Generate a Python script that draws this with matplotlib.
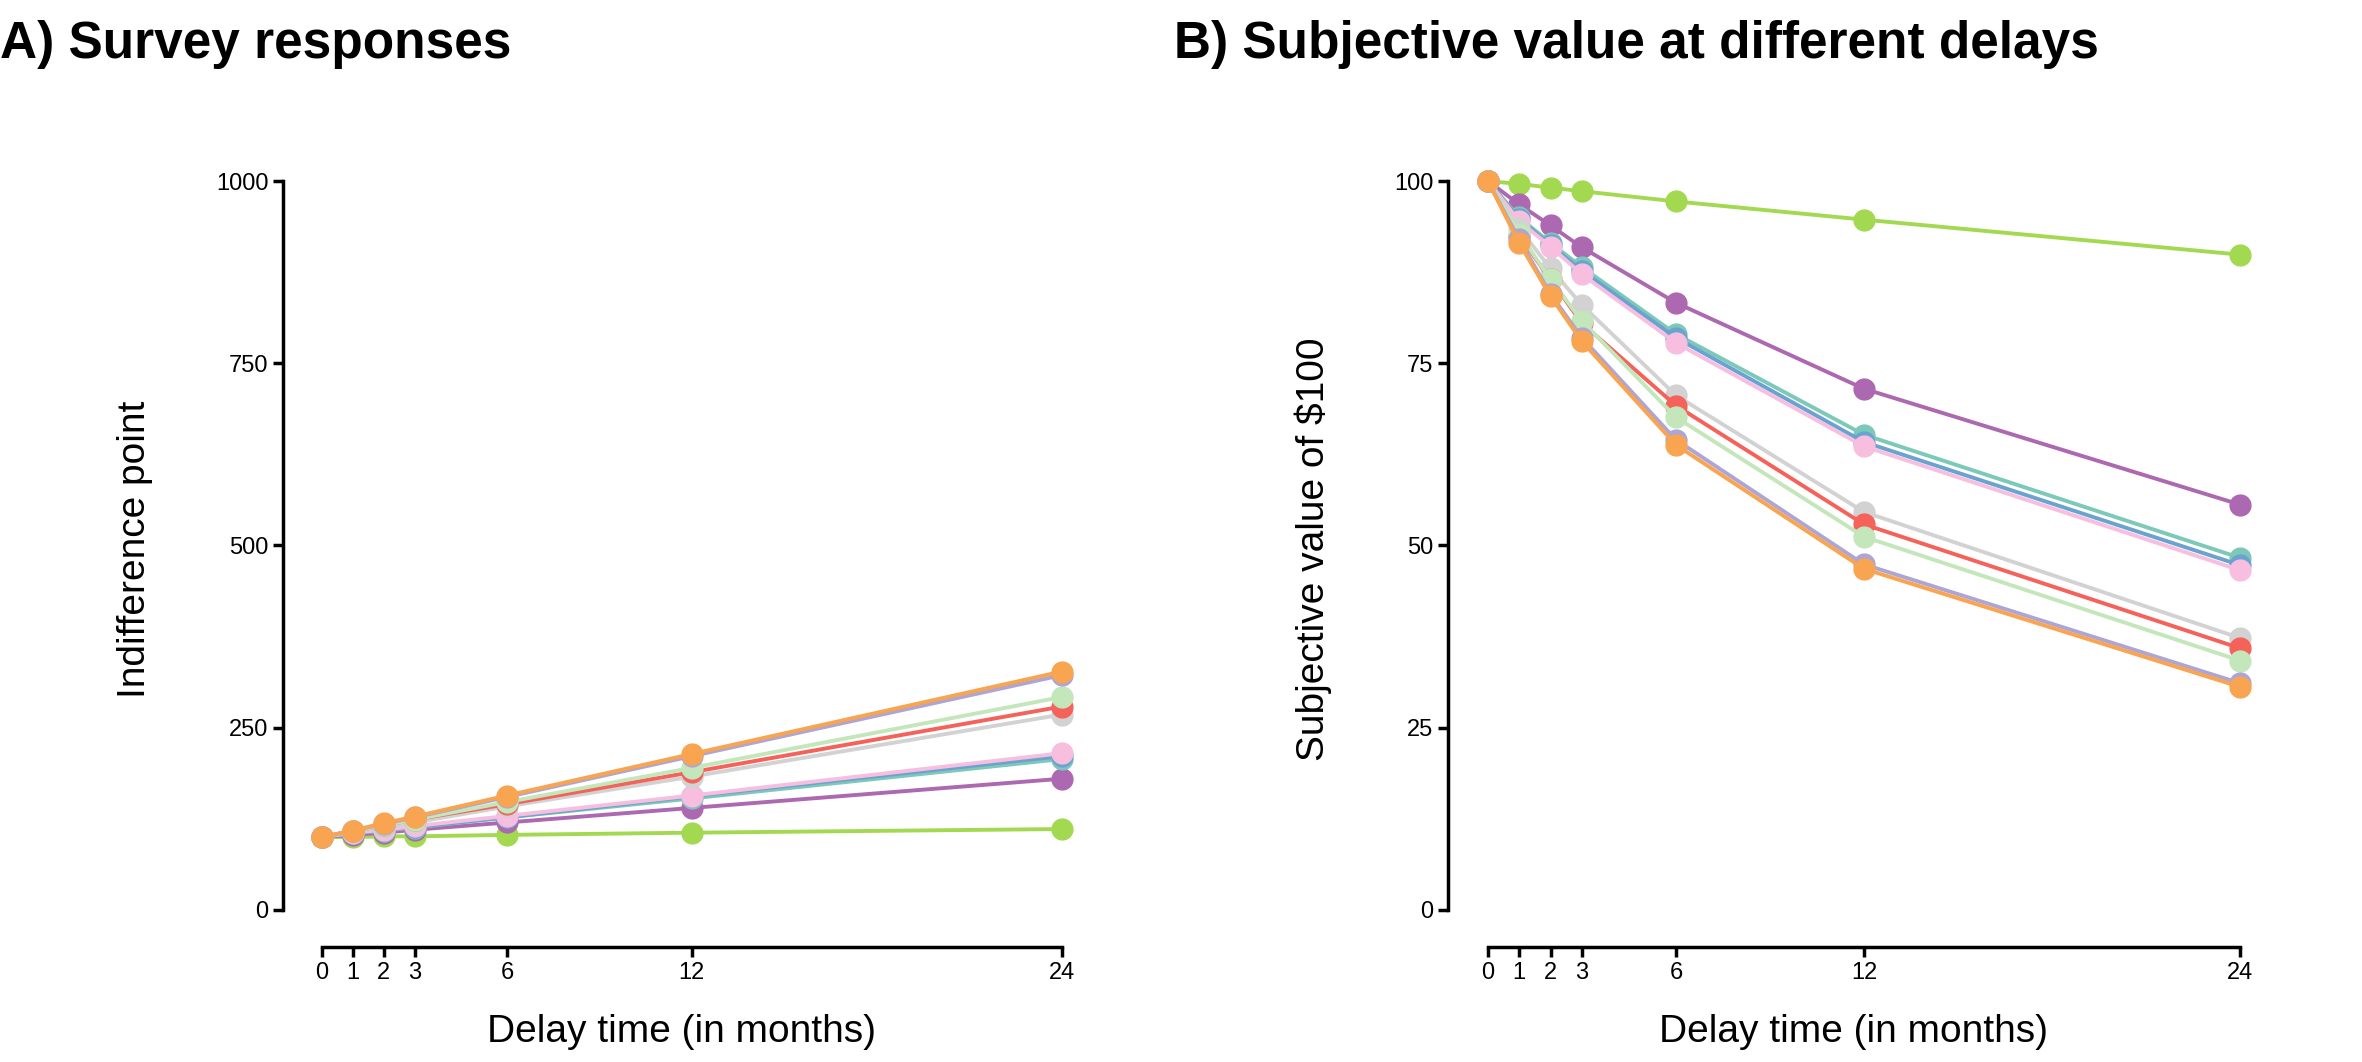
import matplotlib.pyplot as plt

plt.rcParams['font.family'] = ['Liberation Sans', 'DejaVu Sans']

delays = [0, 1, 2, 3, 6, 12, 24]
colors = ['#A3D951', '#AC68B0', '#7CC8B9', '#6BA3D0', '#F7BEE0',
          '#D2D2D2', '#F4625A', '#C3E6BB', '#ADA5D4', '#F9A451']

# subjective value of $100 (panel B)
sv = [
    [100, 99.6, 99.1, 98.6, 97.2, 94.7, 89.9],
    [100, 96.8, 93.9, 90.9, 83.3, 71.5, 55.6],
    [100, 95.0, 91.5, 88.2, 79.0, 65.2, 48.3],
    [100, 94.8, 91.2, 87.7, 78.5, 64.2, 47.3],
    [100, 94.5, 91.0, 87.2, 77.8, 63.6, 46.6],
    [100, 93.5, 88.0, 83.0, 70.6, 54.6, 37.3],
    [100, 92.5, 86.5, 80.5, 69.2, 52.9, 35.9],
    [100, 92.8, 86.5, 80.8, 67.6, 51.2, 34.2],
    [100, 92.0, 84.5, 78.5, 64.5, 47.4, 31.1],
    [100, 91.5, 84.2, 78.0, 63.8, 46.8, 30.6],
]
# indifference points (panel A)
ip = [
    [100, 100, 101, 101, 103, 106, 111],
    [100, 103, 106, 110, 120, 140, 180],
    [100, 105, 109, 113, 127, 153, 207],
    [100, 105, 110, 114, 127, 156, 211],
    [100, 106, 110, 115, 129, 157, 215],
    [100, 107, 114, 120, 142, 183, 268],
    [100, 108, 116, 124, 145, 189, 279],
    [100, 108, 116, 124, 148, 195, 292],
    [100, 109, 118, 127, 155, 211, 322],
    [100, 109, 119, 128, 157, 214, 327],
]

fig = plt.figure(figsize=(23.62, 10.62), dpi=100)
axA = fig.add_axes([283/2362, 0.1083, (1080-283)/2362, 0.7487])
axB = fig.add_axes([1448/2362, 0.1083, (2259-1448)/2362, 0.7487])


def style(ax, top, ticks):
    ax.set_xlim(-1.27, 24.6)
    ax.set_ylim(-0.0508*top, 1.04*top)
    for s in ['top', 'right']:
        ax.spines[s].set_visible(False)
    ax.spines['left'].set_bounds(0, top)
    ax.spines['bottom'].set_bounds(0, 24)
    ax.spines['left'].set_linewidth(2.5)
    ax.spines['bottom'].set_linewidth(2.5)
    ax.set_xticks(delays)
    ax.set_yticks(ticks)
    ax.tick_params(labelsize=17, width=2.5, length=7)
    ax.set_xlabel('Delay time (in months)', fontsize=28, labelpad=22)


for ys, c in zip(ip, colors):
    axA.plot(delays, ys, color=c, lw=2.8, marker='o', ms=15)
for ys, c in zip(sv, colors):
    axB.plot(delays, ys, color=c, lw=2.8, marker='o', ms=15)

style(axA, 1000, [0, 250, 500, 750, 1000])
style(axB, 100, [0, 25, 50, 75, 100])
axA.set_ylabel('Indifference point', fontsize=28, labelpad=45)
axB.set_ylabel('Subjective value of $100', fontsize=28, labelpad=45)

fig.text(0.0, 0.958, 'A) Survey responses', fontsize=37, fontweight='bold', va='center')
fig.text(0.497, 0.958, 'B) Subjective value at different delays', fontsize=37, fontweight='bold', va='center')

plt.savefig('out.png')
plt.close()
